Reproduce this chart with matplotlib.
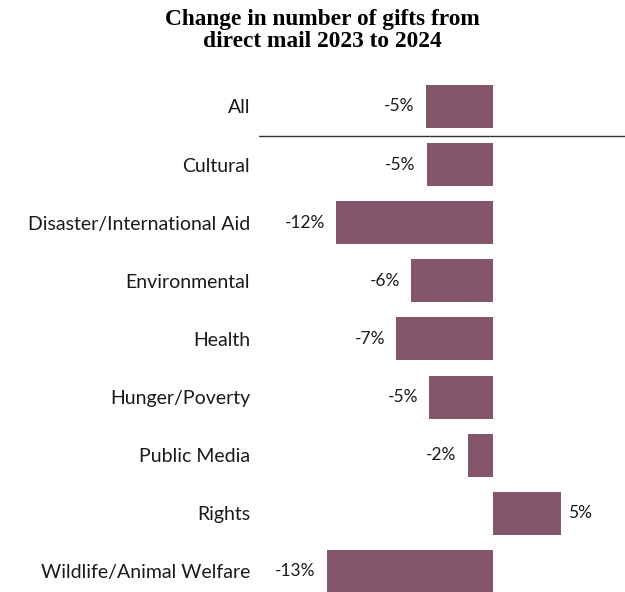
import numpy as np
import matplotlib.pyplot as plt

categories = ["All", "Cultural", "Disaster/International Aid", "Environmental",
              "Health", "Hunger/Poverty", "Public Media", "Rights",
              "Wildlife/Animal Welfare"]
values = [-5.3, -5.2, -12.3, -6.4, -7.6, -5.0, -2.0, 5.3, -13.0]
labels = ["-5%", "-5%", "-12%", "-6%", "-7%", "-5%", "-2%", "5%", "-13%"]

bar_color = "#85556b"
label_font = "Lato"

fig = plt.figure(figsize=(6.25, 5.92), dpi=100)
ax = fig.add_axes([0.4144, 0.0, 0.5856, 0.8693])

y = np.arange(len(categories))
ax.barh(y, values, height=0.74, color=bar_color)

ax.set_xlim(-18.3, 10.27)
ax.set_ylim(8.353, -0.5)

# value labels just outside the bar end
for yi, v, lab in zip(y, values, labels):
    if v < 0:
        ax.annotate(lab, (v, yi), xytext=(-8, 0), textcoords="offset points",
                    ha="right", va="center", fontsize=12.5, family=label_font,
                    color="#1a1a1a")
    else:
        ax.annotate(lab, (v, yi), xytext=(5, 0), textcoords="offset points",
                    ha="left", va="center", fontsize=12.5, family=label_font,
                    color="#1a1a1a")

ax.set_yticks(y)
ax.set_yticklabels(categories, fontsize=14, family=label_font, color="#1a1a1a")
ax.tick_params(axis="y", length=0, pad=6.5)
ax.set_xticks([])
for s in ax.spines.values():
    s.set_visible(False)

# separator between the total and the sectors
ax.axhline(0.5, color="#333333", lw=1)

fig.text(0.516, 0.985, "Change in number of gifts from\ndirect mail 2023 to 2024",
         ha="center", va="top", fontsize=16.8, fontweight="bold",
         family="Liberation Serif", linespacing=1.1)

fig.savefig("out.png", dpi=100)
